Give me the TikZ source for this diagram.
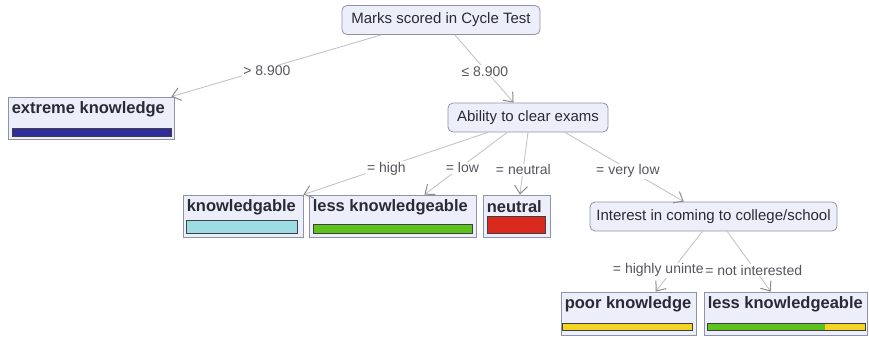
\documentclass[tikz,border=0pt]{standalone}
\usepackage{fontspec}
\setmainfont{Liberation Sans}
\usetikzlibrary{arrows.meta,calc}

\definecolor{boxfill}{HTML}{ECEEFA}
\definecolor{boxline}{HTML}{8E92AA}
\definecolor{txt}{HTML}{2A2A36}
\definecolor{edgecol}{HTML}{C4C4C4}
\definecolor{tipcol}{HTML}{8C8C8C}
\definecolor{barnavy}{HTML}{2F2C9C}
\definecolor{barcyan}{HTML}{9EDCE4}
\definecolor{bargreen}{HTML}{5EC21C}
\definecolor{barred}{HTML}{DA2A1E}
\definecolor{baryellow}{HTML}{F3D424}

\tikzset{
  testnode/.style={draw=boxline, fill=boxfill, rounded corners=5pt, line width=0.8pt,
    inner sep=0pt, minimum height=29pt, text=txt, font=\fontsize{15}{18}\selectfont},
  leafbox/.style={draw=boxline, fill=boxfill, line width=0.8pt, inner sep=0pt},
  leaftext/.style={anchor=west, inner sep=0pt, text=txt,
    font=\fontsize{16.5}{19}\selectfont\bfseries},
  barline/.style={draw=black!75, line width=0.7pt},
  edge/.style={draw=edgecol, line width=0.9pt,
    -{Straight Barb[length=8pt,width=13pt,line width=1pt,color=tipcol]}},
  lbl/.style={fill=white, inner sep=1pt, yshift=-2pt, text=txt!80,
    font=\fontsize{14}{16}\selectfont},
}

\begin{document}
\begin{tikzpicture}[x=1pt,y=-1pt]
\useasboundingbox (0,0) rectangle (869,337);

% test nodes
\node[testnode, minimum width=198pt] (root) at (441,20) {Marks scored in Cycle Test};
\node[testnode, minimum width=160pt] (abil) at (528,117.5) {Ability to clear exams};
\node[testnode, minimum width=247pt] (inter) at (713.5,216.5) {Interest in coming to college/school};

% leaf boxes
\node[leafbox, minimum width=166pt, minimum height=42pt] (ext) at (91,118) {};
\node[leafbox, minimum width=120pt, minimum height=42pt] (knw) at (243,216) {};
\node[leafbox, minimum width=167pt, minimum height=42pt] (less) at (392.5,216) {};
\node[leafbox, minimum width=67pt, minimum height=42pt] (neu) at (516.5,216) {};
\node[leafbox, minimum width=135pt, minimum height=43pt] (poor) at (628.5,313.5) {};
\node[leafbox, minimum width=163pt, minimum height=43pt] (lessb) at (785.5,313.5) {};

% leaf labels
\node[leaftext] (extT) at ($(ext.north west)+(4,12.5)$) {extreme knowledge};
\node[leaftext] (knwT) at ($(knw.north west)+(4,12.5)$) {knowledgable};
\node[leaftext] (lessT) at ($(less.north west)+(4,12.5)$) {less knowledgeable};
\node[leaftext] (neuT) at ($(neu.north west)+(4,12.5)$) {neutral};
\node[leaftext] (poorT) at ($(poor.north west)+(4,12.5)$) {poor knowledge};
\node[leaftext] (lessbT) at ($(lessb.north west)+(4,12.5)$) {less knowledgeable};

% class distribution bars
\filldraw[barline, fill=barnavy] (12,128) rectangle (171,136);
\filldraw[barline, fill=barcyan] (186,220) rectangle (297,233);
\filldraw[barline, fill=bargreen] (313,224) rectangle (472,233);
\filldraw[barline, fill=barred] (487,216) rectangle (545,233);
\filldraw[barline, fill=baryellow] (562,323) rectangle (692,330);
\fill[bargreen] (707,323) rectangle (825,330);
\fill[baryellow] (825,323) rectangle (865,330);
\draw[barline] (707,323) rectangle (865,330);

% branches
\draw[edge] ($(root.south west)!0.2!(root.south east)$) --
  node[lbl, pos=0.545] {> 8.900} ($(ext.north east)+(-3,0)$);
\draw[edge] ($(root.south west)!0.57!(root.south east)$) --
  node[lbl, pos=0.51] {≤ 8.900} ($(abil.north west)!0.41!(abil.north east)$);

\draw[edge] ($(abil.south west)!0.25!(abil.south east)$) --
  node[lbl, pos=0.55] {= high} (knw.north east);
\draw[edge] ($(abil.south west)!0.37!(abil.south east)$) --
  node[lbl, pos=0.54] {= low} ($(less.north west)!0.69!(less.north east)$);
\draw[edge] ($(abil.south west)!0.5!(abil.south east)$) --
  node[lbl, pos=0.57] {= neutral} ($(neu.north west)!0.55!(neu.north east)$);
\draw[edge] ($(abil.south west)!0.73!(abil.south east)$) --
  node[lbl, pos=0.53] {= very low} ($(inter.north west)!0.38!(inter.north east)$);

\draw[edge] ($(inter.south west)!0.455!(inter.south east)$) --
  ($(poor.north west)!0.70!(poor.north east)$);
\draw[edge] ($(inter.south west)!0.555!(inter.south east)$) --
  node[lbl, pos=0.61] (ni) {= not interested} ($(lessb.north west)!0.41!(lessb.north east)$);
\node[lbl, anchor=east, inner xsep=0pt, yshift=2pt] (hu) at (ni.west) {= highly uninte};

\end{tikzpicture}
\end{document}
